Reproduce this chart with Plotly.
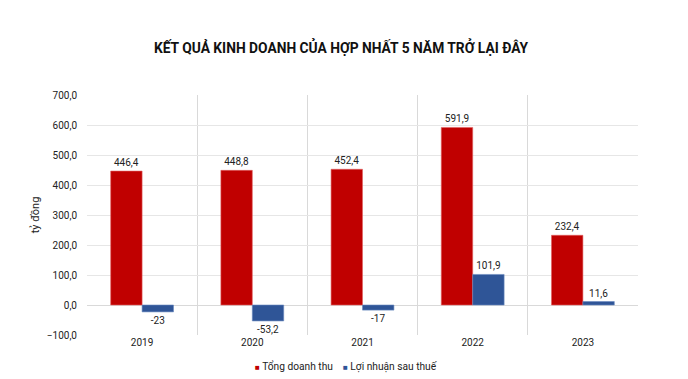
import plotly.graph_objects as go

years = ["2019", "2020", "2021", "2022", "2023"]
revenue = [446.4, 448.8, 452.4, 591.9, 232.4]
profit = [-23, -53.2, -17, 101.9, 11.6]
y_ticks = [-100, 0, 100, 200, 300, 400, 500, 600, 700]
series_names = ["Tổng doanh thu", "Lợi nhuận sau thuế"]
series_colors = ["#C00000", "#2F5597"]
line_colors = ["#E06060", "#6A8AC0"]

def fmt(v):
    return ("%g" % v).replace(".", ",")

font = "Roboto, Arial, sans-serif"

fig = go.Figure()
for name, vals, col, lc in zip(series_names, [revenue, profit], series_colors, line_colors):
    fig.add_trace(go.Bar(
        x=years, y=vals, name=name, showlegend=False,
        marker=dict(color=col, line=dict(color=lc, width=0.6)),
        text=[fmt(v) for v in vals], textposition="outside",
        textfont=dict(size=10, color="#222222", family=font), cliponaxis=False,
    ))

legend_text = "    ".join(
    f"<span style='color:{c};font-size:8px'>■</span> {n}" for n, c in zip(series_names, series_colors)
)
fig.add_annotation(
    text=legend_text, xref="paper", yref="paper", x=(346 - 87) / 551, y=(335 - 366) / 240,
    xanchor="center", yanchor="middle", showarrow=False,
    font=dict(family=font, size=10.2, color="#222222"),
)

fig.update_layout(
    width=688, height=379,
    margin=dict(l=87, r=50, t=95, b=44, autoexpand=False),
    paper_bgcolor="white", plot_bgcolor="white",
    separators=",.",
    barmode="group", bargap=0.43, bargroupgap=0,
    title=dict(text="<b>KẾT QUẢ KINH DOANH CỦA HỢP NHẤT 5 NĂM TRỞ LẠI ĐÂY</b>",
               xref="container", x=341 / 688, xanchor="center", y=1 - 48 / 379, yanchor="middle",
               font=dict(family=font, size=13.8, color="#111111")),
    font=dict(family=font, size=10, color="#222222"),
    showlegend=False,
    xaxis=dict(type="category", tickson="boundaries", showgrid=True,
               gridcolor="#D9D9D9", gridwidth=1, ticks="", showline=False,
               tickfont=dict(size=10, color="#222222"), zeroline=False),
    yaxis=dict(range=[-100, 700], tickvals=y_ticks, tickformat=".1f",
               showgrid=True, gridcolor="#E6E6E6", gridwidth=1,
               zeroline=True, zerolinecolor="#D9D9D9", zerolinewidth=1,
               ticks="", tickfont=dict(size=10, color="#222222"),
               ticklabelstandoff=9,
               title=dict(text="tỷ đồng", font=dict(size=11, color="#222222"), standoff=4)),
)

fig.write_html("out.html", config={"displayModeBar": False},
               post_script="document.body.style.margin='0';")
